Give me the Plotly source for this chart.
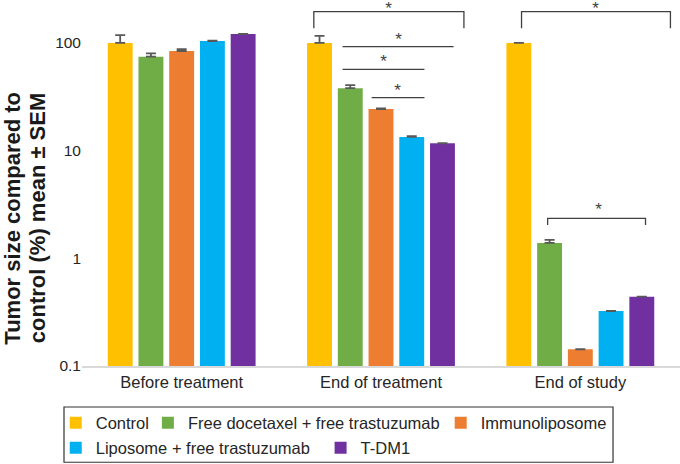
import plotly.graph_objects as go

categories = ["Before treatment", "End of treatment", "End of study"]
series_names = ["Control", "Free docetaxel + free trastuzumab", "Immunoliposome",
                "Liposome + free trastuzumab", "T-DM1"]
control = [100, 100, 100]
free_doc = [74.5, 38, 1.39]
immuno = [84, 24.3, 0.143]
lipo = [104, 13.4, 0.324]
tdm1 = [121, 11.7, 0.44]
control_err = [18, 16, None]
free_doc_err = [5.5, 2.6, 0.09]
immuno_err = [3.3, 0.4, None]
lipo_err = [1.2, 0.2, None]
tdm1_err = [None, None, None]
y_tick_vals = [0.1, 1, 10, 100]
y_tick_text = ["0.1", "1", "10", "100"]
y_title_lines = ["Tumor size compared to", "control (%) mean ± SEM"]

colors = ["#FFC000", "#70AD47", "#ED7D31", "#00B0F0", "#7030A0"]
values = [control, free_doc, immuno, lipo, tdm1]
errors = [control_err, free_doc_err, immuno_err, lipo_err, tdm1_err]

# significance brackets: (x left, x right, y leg bottom, y bar)
brackets = [
    (0.663, 1.416, 137, 195),
    (1.705, 2.452, 137, 195),
    (1.836, 2.327, 2.04, 2.35),
]
# significance lines: (x left, x right, y)
sig_lines = [
    (0.807, 1.364, 92.2),
    (0.807, 1.218, 56.9),
    (0.953, 1.218, 31),
]
star_x = [1.038, 2.077, 1.088, 1.013, 1.083, 2.092]
star_y = [242, 242, 126, 78.4, 42.4, 3.33]

# legend entry placement (container pixels: left x, row centre y)
legend_left_px = [55.75, 147.9, 440.7, 55.75, 320.6]
legend_row_px = [423, 423, 423, 448, 448]
legend_ids = ["legend", "legend2", "legend3", "legend4", "legend5"]

W, H = 680, 464
xpos = list(range(len(categories)))
fig = go.Figure()
for name, vals, errs, col, lg in zip(series_names, values, errors, colors, legend_ids):
    fig.add_trace(go.Bar(
        x=xpos, y=vals, name=name, legend=lg,
        marker=dict(color=col, line=dict(width=0)),
        error_y=dict(type="data", array=errs,
                     arrayminus=[0 if e is not None else None for e in errs],
                     symmetric=False, color="#595959", thickness=1.8, width=5),
    ))

line_style = dict(color="#404040", width=1.3)
for x0, x1, yb, yt in brackets:
    fig.add_trace(go.Scatter(x=[x0, x0, x1, x1], y=[yb, yt, yt, yb], mode="lines",
                             line=line_style, showlegend=False, hoverinfo="skip",
                             cliponaxis=False))
for x0, x1, yv in sig_lines:
    fig.add_trace(go.Scatter(x=[x0, x1], y=[yv, yv], mode="lines",
                             line=line_style, showlegend=False, hoverinfo="skip",
                             cliponaxis=False))
fig.add_trace(go.Scatter(x=star_x, y=star_y, mode="text", text=["*"] * len(star_x),
                         textposition="bottom center",
                         textfont=dict(family="Liberation Sans", size=17, color="#404040"),
                         showlegend=False, hoverinfo="skip", cliponaxis=False))

legend_common = dict(orientation="h", xref="container", yref="container",
                     xanchor="left", yanchor="middle", borderwidth=0,
                     bgcolor="rgba(0,0,0,0)", traceorder="normal",
                     font=dict(family="Liberation Sans", size=16.5, color="#262626"))
legend_layouts = {}
for lg, lx, ly in zip(legend_ids, legend_left_px, legend_row_px):
    legend_layouts[lg] = dict(x=lx / W, y=1 - ly / H, **legend_common)

fig.update_layout(
    width=W, height=H,
    margin=dict(l=82, r=0, t=0, b=98),
    paper_bgcolor="white", plot_bgcolor="white",
    barmode="group", bargap=0.229, bargroupgap=0.19,
    font=dict(family="Liberation Sans", size=16.5, color="#262626"),
    showlegend=True,
    xaxis=dict(range=[-0.5, 2.5], tickvals=xpos, ticktext=categories,
               showline=True, linecolor="#d9d9d9", linewidth=2, showgrid=False,
               zeroline=False, ticks="", tickfont=dict(size=16.5, color="#262626")),
    yaxis=dict(type="log", range=[-1, 2.3985], tickvals=y_tick_vals, ticktext=y_tick_text,
               showline=False, showgrid=False, zeroline=False, ticks="",
               tickfont=dict(size=15.5, color="#262626")),
    shapes=[dict(type="rect", xref="paper", yref="paper",
                 x0=-0.0301, x1=0.888, y0=-0.112, y1=-0.263,
                 line=dict(color="#333333", width=1.2), fillcolor="rgba(0,0,0,0)")],
    annotations=[
        dict(text="<b>" + y_title_lines[0] + "</b>", xref="paper", yref="paper",
             x=(12.5 - 82) / 598, y=0.404, xanchor="center", yanchor="middle", textangle=-90,
             showarrow=False, borderpad=0,
             font=dict(family="Liberation Sans", size=22, color="#1a1a1a")),
        dict(text="<b>" + y_title_lines[1] + "</b>", xref="paper", yref="paper",
             x=(37 - 82) / 598, y=0.404, xanchor="center", yanchor="middle", textangle=-90,
             showarrow=False, borderpad=0,
             font=dict(family="Liberation Sans", size=22, color="#1a1a1a")),
    ],
)
fig.update_layout(**legend_layouts)

fig.write_html("out.html", config={"displayModeBar": False},
               post_script="document.body.style.margin='0';")
